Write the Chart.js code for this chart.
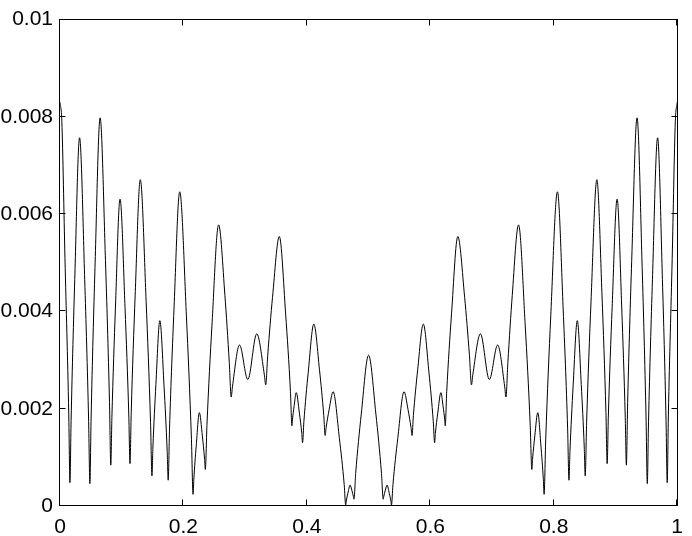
<!DOCTYPE html>
<html>
<head>
<meta charset="utf-8">
<script src="https://cdn.jsdelivr.net/npm/chart.js@4/dist/chart.umd.min.js"></script>
<style>
  html, body { margin: 0; padding: 0; background: #fff; }
  #wrap { width: 692px; height: 536px; }
</style>
</head>
<body>
<div id="wrap"><canvas id="c" width="692" height="536"></canvas></div>
<script>
// Curve samples (x position, value); rows line up between the two arrays
const xValues = [
  0, 0.003, 0.00805, 0.0142, 0.0161, 0.0180, 0.0239, 0.0317,
  0.04005, 0.0464, 0.0484, 0.0504, 0.0567, 0.065,
  0.07365, 0.0802, 0.0823, 0.0841, 0.0898, 0.0973,
  0.10535, 0.1115, 0.1134, 0.1154, 0.12175, 0.1301,
  0.13955, 0.1467, 0.149, 0.1505, 0.1554, 0.1618,
  0.16855, 0.1737, 0.1753, 0.1775, 0.18465, 0.194,
  0.2048, 0.2130, 0.2156, 0.2168, 0.2207, 0.2258,
  0.23065, 0.2343, 0.2355, 0.2381, 0.24625, 0.257,
  0.2672, 0.2743, 0.2774, 0.2794, 0.2909, 0.3043, 0.3188,
  0.3311, 0.3333, 0.3366, 0.34435, 0.3554,
  0.3656, 0.3734, 0.3758, 0.3766, 0.3793, 0.3828,
  0.3879, 0.3918, 0.393, 0.3952, 0.40215, 0.4113,
  0.42045, 0.4274, 0.4296, 0.4312, 0.43605, 0.4425,
  0.4527, 0.4605, 0.4629, 0.4638, 0.46645, 0.47,
  0.47315, 0.4755, 0.4763, 0.4791, 0.48815, 0.5,
  0.51185, 0.5209, 0.5237, 0.5245, 0.52685, 0.53,
  0.53355, 0.5362, 0.5371, 0.5395, 0.5473, 0.5575,
  0.56395, 0.5688, 0.5704, 0.5726, 0.57955, 0.5887,
  0.59785, 0.6048, 0.607, 0.6082, 0.6121, 0.6172,
  0.6207, 0.6234, 0.6242, 0.6266, 0.6344, 0.6446,
  0.65565, 0.6634, 0.6667, 0.6689,
  0.6812, 0.6957, 0.7091, 0.7206, 0.7226, 0.7257, 0.7328, 0.743,
  0.75375, 0.7619, 0.7645, 0.7657, 0.76935, 0.7742,
  0.7793, 0.7832, 0.7844, 0.787, 0.7952, 0.806,
  0.81535, 0.8225, 0.8247, 0.8263, 0.83145, 0.8382,
  0.8446, 0.8495, 0.851, 0.8533, 0.86045, 0.8699,
  0.87825, 0.8846, 0.8866, 0.8885, 0.89465, 0.9027,
  0.9102, 0.9159, 0.9177, 0.9198, 0.92635, 0.935,
  0.9433, 0.9496, 0.9516, 0.9536, 0.95995, 0.9683,
  0.9761, 0.982, 0.9839, 0.9858, 0.99195, 0.997, 1
];
const yValues = [
  0.0083, 0.0079, 0.00509, 0.00189, 0.00048, 0.00176, 0.00466, 0.00757,
  0.00465, 0.00174, 0.00046, 0.00181, 0.0049, 0.00798,
  0.00505, 0.00213, 0.00084, 0.00182, 0.00407, 0.00631,
  0.00408, 0.00185, 0.00087, 0.00192, 0.00432, 0.00671,
  0.00421, 0.00172, 0.00062, 0.00119, 0.0025, 0.00381,
  0.00247, 0.00112, 0.00053, 0.0016, 0.00403, 0.00646,
  0.00391, 0.00136, 0.00024, 0.00054, 0.00123, 0.00192,
  0.00144, 0.00096, 0.00075, 0.00166, 0.00372, 0.00578,
  0.00433, 0.00295, 0.00224, 0.00245, 0.00331, 0.0026, 0.00354,
  0.0027, 0.00249, 0.0031, 0.00429, 0.00554,
  0.00395, 0.00235, 0.00165, 0.00177, 0.00205, 0.00233,
  0.00191, 0.00149, 0.0013, 0.00174, 0.00274, 0.00374,
  0.0028, 0.00186, 0.00145, 0.00161, 0.00198, 0.00235,
  0.00139, 0.00044, 0.00002, 0.0001, 0.00026, 0.00043,
  0.00031, 0.00019, 0.00014, 0.00067, 0.00189, 0.0031,
  0.00189, 0.00067, 0.00014, 0.00019, 0.00031, 0.00043,
  0.00026, 0.0001, 0.00002, 0.00044, 0.00139, 0.00235,
  0.00198, 0.00161, 0.00145, 0.00186, 0.0028, 0.00374,
  0.00274, 0.00174, 0.0013, 0.00149, 0.00191, 0.00233,
  0.00205, 0.00177, 0.00165, 0.00235, 0.00395, 0.00554,
  0.00429, 0.0031, 0.00249, 0.0027,
  0.00354, 0.0026, 0.00331, 0.00245, 0.00224, 0.00295, 0.00433, 0.00578,
  0.00372, 0.00166, 0.00075, 0.00096, 0.00144, 0.00192,
  0.00123, 0.00054, 0.00024, 0.00136, 0.00391, 0.00646,
  0.00403, 0.0016, 0.00053, 0.00112, 0.00247, 0.00381,
  0.0025, 0.00119, 0.00062, 0.00172, 0.00421, 0.00671,
  0.00432, 0.00192, 0.00087, 0.00185, 0.00408, 0.00631,
  0.00407, 0.00182, 0.00084, 0.00213, 0.00505, 0.00798,
  0.0049, 0.00181, 0.00046, 0.00174, 0.00465, 0.00757,
  0.00466, 0.00176, 0.00048, 0.00189, 0.00509, 0.0079, 0.0083
];
const xTickValues = [0, 0.2, 0.4, 0.6, 0.8, 1];
const xTickLabels = ['0', '0.2', '0.4', '0.6', '0.8', '1'];
const yTickValues = [0, 0.002, 0.004, 0.006, 0.008, 0.01];
const yTickLabels = ['0', '0.002', '0.004', '0.006', '0.008', '0.01'];

if (xValues.length !== yValues.length) {
  throw new Error('length mismatch ' + xValues.length + ' vs ' + yValues.length);
}
const points = xValues.map((x, i) => ({ x: x, y: yValues[i] }));

const boxPlugin = {
  id: 'matlabBox',
  afterDraw(chart) {
    const ctx = chart.ctx;
    const xs = chart.scales.x, ys = chart.scales.y;
    const L = Math.round(xs.getPixelForValue(0)) - 0.5;
    const R = Math.round(xs.getPixelForValue(1)) + 0.5;
    const T = Math.round(ys.getPixelForValue(0.01)) - 0.5;
    const B = Math.round(ys.getPixelForValue(0)) - 0.5;
    const tl = 6;
    ctx.save();
    ctx.strokeStyle = '#000';
    ctx.lineWidth = 1;
    ctx.strokeRect(L, T, R - L, B - T);
    ctx.beginPath();
    xTickValues.forEach(v => {
      const px = Math.round(xs.getPixelForValue(v)) - 0.5;
      ctx.moveTo(px, B); ctx.lineTo(px, B - tl);
      ctx.moveTo(px, T); ctx.lineTo(px, T + tl);
    });
    yTickValues.forEach(v => {
      const py = Math.round(ys.getPixelForValue(v)) - 0.5;
      ctx.moveTo(L, py); ctx.lineTo(L + tl, py);
      ctx.moveTo(R, py); ctx.lineTo(R - tl, py);
    });
    ctx.stroke();
    ctx.restore();
  }
};

new Chart(document.getElementById('c'), {
  type: 'scatter',
  data: {
    datasets: [{
      data: points,
      showLine: true,
      borderColor: '#000',
      borderWidth: 1,
      pointRadius: 0,
      pointHoverRadius: 0,
      cubicInterpolationMode: 'monotone',
      fill: false
    }]
  },
  options: {
    responsive: false,
    animation: false,
    events: [],
    layout: { padding: { top: 16, right: 12, left: 0, bottom: 0 } },
    plugins: { legend: { display: false }, tooltip: { enabled: false } },
    scales: {
      x: {
        type: 'linear', min: 0, max: 1,
        afterBuildTicks(s) { s.ticks = xTickValues.map(v => ({ value: v })); },
        afterFit(s) { s.height = 30; },
        grid: { display: false, drawTicks: false },
        border: { display: false },
        ticks: {
          padding: 9,
          color: '#000',
          font: { family: '"Liberation Sans", Arial, Helvetica, sans-serif', size: 21 },
          maxRotation: 0,
          callback(v, i) { return xTickLabels[i]; }
        }
      },
      y: {
        type: 'linear', min: 0, max: 0.01,
        afterBuildTicks(s) { s.ticks = yTickValues.map(v => ({ value: v })); },
        afterFit(s) { s.width = 60; },
        grid: { display: false, drawTicks: false },
        border: { display: false },
        ticks: {
          padding: 7,
          color: '#000',
          font: { family: '"Liberation Sans", Arial, Helvetica, sans-serif', size: 21 },
          callback(v, i) { return yTickLabels[i]; }
        }
      }
    }
  },
  plugins: [boxPlugin]
});
</script>
</body>
</html>
